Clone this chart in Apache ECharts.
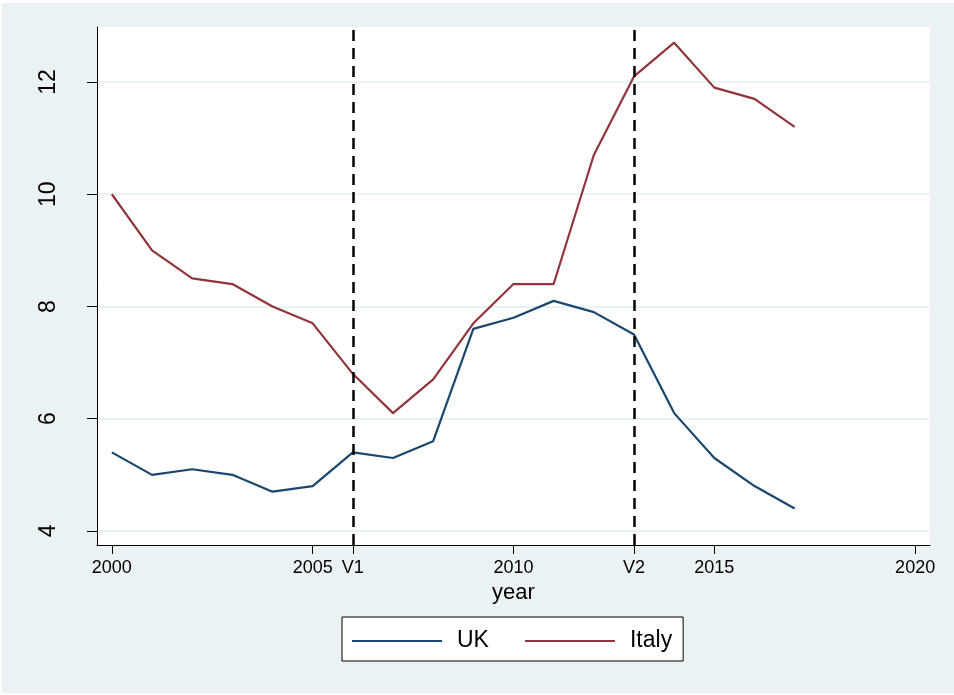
<!DOCTYPE html>
<html>
<head>
<meta charset="utf-8">
<script src="https://cdn.jsdelivr.net/npm/echarts@6/dist/echarts.min.js"></script>
<style>
  html, body { margin: 0; padding: 0; background: #ffffff; width: 954px; height: 695px; overflow: hidden; }
  #chart { position: absolute; left: 2px; top: 3px; width: 952px; height: 690px; }
</style>
</head>
<body>
<div id="chart"></div>
<script>
// Years on the horizontal axis
const years = [2000, 2001, 2002, 2003, 2004, 2005, 2006, 2007, 2008, 2009,
               2010, 2011, 2012, 2013, 2014, 2015, 2016, 2017];

// Series values
const ukValues    = [5.4, 5.0, 5.1, 5.0, 4.7, 4.8, 5.4, 5.3, 5.6, 7.6,
                     7.8, 8.1, 7.9, 7.5, 6.1, 5.3, 4.8, 4.4];
const italyValues = [10.0, 9.0, 8.5, 8.4, 8.0, 7.7, 6.8, 6.1, 6.7, 7.7,
                     8.4, 8.4, 10.7, 12.1, 12.7, 11.9, 11.7, 11.2];

// Tick positions and labels
const xTickValues = [2000, 2005, 2006, 2010, 2013, 2015, 2020];
const xTickLabels = { 2006: 'V1', 2013: 'V2' };
const yTickValues = [4, 6, 8, 10, 12];

// Reference years drawn as dashed vertical lines
const eventYears = [2006, 2013];

const pairs = (vals) => years.map((y, i) => [y, vals[i]]);

const chart = echarts.init(document.getElementById('chart'));

chart.setOption({
  backgroundColor: '#eaf2f3',
  animation: false,
  textStyle: { fontFamily: 'Liberation Sans, Arial, sans-serif' },
  grid: {
    left: 95, right: 24, top: 24, bottom: 148,
    show: true, backgroundColor: '#ffffff', borderWidth: 0
  },
  xAxis: {
    type: 'value',
    min: 1999.63, max: 2020.37,
    name: 'year',
    nameLocation: 'middle',
    nameGap: 36,
    nameTextStyle: { fontSize: 22, color: '#000' },
    axisLine: { show: true, onZero: false, lineStyle: { color: '#000', width: 1 } },
    axisTick: { show: true, length: 9, customValues: xTickValues, lineStyle: { color: '#000', width: 1 } },
    axisLabel: {
      customValues: xTickValues,
      margin: 14,
      fontSize: 18,
      color: '#000',
      formatter: (v) => xTickLabels[v] || String(v)
    },
    splitLine: { show: false }
  },
  yAxis: {
    type: 'value',
    min: 3.75, max: 12.98,
    axisLine: { show: true, onZero: false, lineStyle: { color: '#000', width: 1 } },
    axisTick: { show: true, length: 10, customValues: yTickValues, lineStyle: { color: '#000', width: 1 } },
    axisLabel: {
      customValues: yTickValues,
      rotate: 90,
      margin: 37,
      fontSize: 23,
      color: '#000'
    },
    splitLine: { show: true, lineStyle: { color: '#eaf2f3', width: 2 } }
  },
  legend: {
    left: 340, top: 614,
    orient: 'horizontal',
    padding: [12, 11, 8, 10],
    itemGap: 36,
    itemWidth: 90,
    itemHeight: 2,
    icon: 'rect',
    borderColor: '#000',
    borderWidth: 1,
    backgroundColor: '#ffffff',
    textStyle: { fontSize: 23, color: '#000', lineHeight: 24, padding: [0, 0, 0, 10] },
    data: ['UK', 'Italy']
  },
  series: [
    {
      name: 'UK',
      type: 'line',
      data: pairs(ukValues),
      symbol: 'none',
      color: '#1a476f',
      lineStyle: { color: '#1a476f', width: 2.2 },
      markLine: {
        silent: true,
        symbol: ['none', 'none'],
        label: { show: false },
        lineStyle: { color: '#000', width: 2.5, type: [11, 7] },
        data: eventYears.map((y) => ({ xAxis: y }))
      }
    },
    {
      name: 'Italy',
      type: 'line',
      data: pairs(italyValues),
      symbol: 'none',
      color: '#90353b',
      lineStyle: { color: '#90353b', width: 2.2 }
    }
  ]
});
</script>
</body>
</html>
